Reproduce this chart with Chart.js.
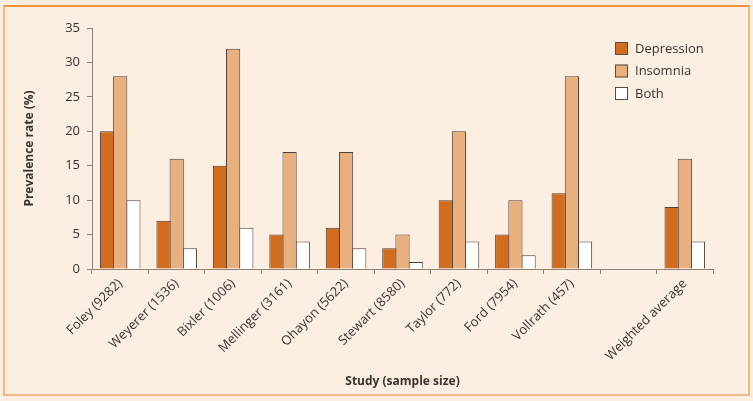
<!DOCTYPE html>
<html>
<head>
<meta charset="utf-8">
<script src="https://cdn.jsdelivr.net/npm/chart.js@4"></script>
<style>
    html, body {
        margin: 0;
        padding: 0;
        background: #fcefe2;
    }
    #frame {
        position: absolute;
        left: 3px;
        top: 5px;
        width: 743px;
        height: 387px;
        border: 2px solid #eeb887;
        border-top-color: #f0953f;
    }
    #wrap {
        position: absolute;
        left: 0;
        top: 0;
        width: 753px;
        height: 401px;
    }
</style>
</head>
<body>
<div id="frame"></div>
<div id="wrap"><canvas id="chart" width="753" height="401"></canvas></div>
<script>
// Studies (sample size), with a blank slot before the weighted average
const studies = [
    'Foley (9282)', 'Weyerer (1536)', 'Bixler (1006)', 'Mellinger (3161)',
    'Ohayon (5622)', 'Stewart (8580)', 'Taylor (772)', 'Ford (7954)',
    'Vollrath (457)', '', 'Weighted average'
];

// Prevalence rate (%)
const depression = [20, 7, 15, 5, 6, 3, 10, 5, 11, null, 9];
const insomnia = [28, 16, 32, 17, 17, 5, 20, 10, 28, null, 16];
const both = [10, 3, 6, 4, 3, 1, 4, 2, 4, null, 4];

const yTicks = [0, 5, 10, 15, 20, 25, 30, 35];

const FONT = 'Open Sans';
const axisColor = '#8f8377';
const textColor = '#3a3330';

// Legend drawn inside the plot area, top right
const legendPlugin = {
    id: 'cornerLegend',
    afterDraw(chart) {
        const ctx = chart.ctx;
        const x = 615;
        let y = 42;
        ctx.save();
        ctx.font = `13px "${FONT}"`;
        ctx.textBaseline = 'middle';
        chart.data.datasets.forEach(ds => {
            ctx.fillStyle = ds.backgroundColor;
            ctx.fillRect(x, y, 13, 13);
            ctx.strokeStyle = '#5b4b40';
            ctx.lineWidth = 1;
            ctx.strokeRect(x + 0.5, y + 0.5, 12, 12);
            ctx.fillStyle = textColor;
            ctx.fillText(ds.label, x + 20, y + 7);
            y += 22.5;
        });
        ctx.restore();
    }
};

new Chart(document.getElementById('chart'), {
    type: 'bar',
    data: {
        labels: studies,
        datasets: [
            {
                label: 'Depression',
                data: depression,
                backgroundColor: '#d26c1e',
                borderColor: '#4f3f35',
                borderWidth: 1
            },
            {
                label: 'Insomnia',
                data: insomnia,
                backgroundColor: '#e9b07f',
                borderColor: '#4f3f35',
                borderWidth: 1
            },
            {
                label: 'Both',
                data: both,
                backgroundColor: '#ffffff',
                borderColor: '#4f3f35',
                borderWidth: 1
            }
        ]
    },
    options: {
        responsive: false,
        animation: false,
        categoryPercentage: 0.7,
        barPercentage: 1.08,
        layout: {
            padding: { left: 22, right: 40, top: 28, bottom: 0 }
        },
        scales: {
            x: {
                offset: true,
                border: { color: axisColor, width: 1 },
                grid: {
                    offset: true,
                    drawOnChartArea: false,
                    drawTicks: true,
                    tickLength: 5,
                    color: axisColor
                },
                ticks: {
                    color: textColor,
                    minRotation: 45,
                    maxRotation: 45,
                    autoSkip: false,
                    padding: 2,
                    font: { size: 13, family: FONT }
                },
                title: {
                    display: true,
                    text: 'Study (sample size)',
                    color: textColor,
                    padding: { top: 0, bottom: 12 },
                    font: { size: 12, weight: 'bold', family: FONT }
                },
                afterFit(scale) {
                    scale.height = 132;
                }
            },
            y: {
                min: 0,
                max: 35,
                afterBuildTicks(scale) {
                    scale.ticks = yTicks.map(v => ({ value: v }));
                },
                border: { color: axisColor, width: 1 },
                grid: {
                    drawOnChartArea: false,
                    drawTicks: true,
                    tickLength: 5,
                    color: axisColor
                },
                ticks: {
                    color: textColor,
                    padding: 7,
                    font: { size: 13, family: FONT }
                },
                title: {
                    display: true,
                    text: 'Prevalence rate (%)',
                    color: textColor,
                    padding: { top: 0, bottom: 0 },
                    font: { size: 12, weight: 'bold', family: FONT }
                },
                afterFit(scale) {
                    scale.width = 70;
                }
            }
        },
        plugins: {
            legend: { display: false },
            tooltip: { enabled: false }
        }
    },
    plugins: [legendPlugin]
});
</script>
</body>
</html>
